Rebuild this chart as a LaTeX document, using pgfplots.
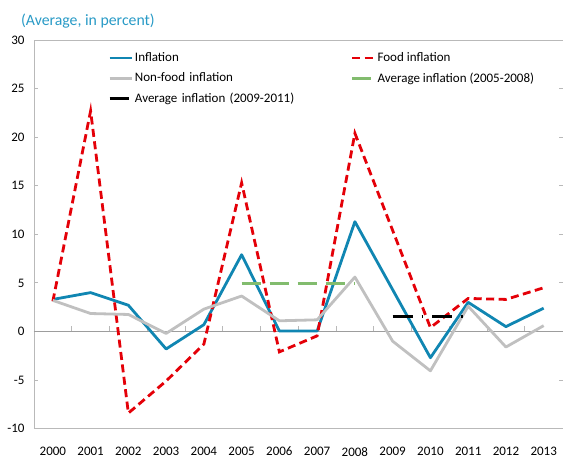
\documentclass[border=0pt]{standalone}
\usepackage{pgfplots}
\pgfplotsset{compat=1.18}
\usepackage{fontspec}
\setmainfont{Carlito}
\definecolor{infl}{RGB}{16,134,178}
\definecolor{food}{RGB}{228,0,8}
\definecolor{nonfood}{RGB}{192,192,192}
\definecolor{avgA}{RGB}{130,188,110}
\definecolor{ttl}{RGB}{40,154,198}
\definecolor{frame}{RGB}{185,185,185}
\begin{document}
\begin{tikzpicture}
\begin{axis}[
  scale only axis,
  width=529pt, height=389pt,
  xmin=-0.5, xmax=13.5,
  ymin=-10, ymax=30,
  ytick={-10,-5,0,5,10,15,20,25,30},
  xtick={0,...,13},
  xticklabels={2000,2001,2002,2003,2004,2005,2006,2007,2008,2009,2010,2011,2012,2013},
  axis line style={draw=none},
  xtick style={draw=none},
  ytick style={draw=frame, line width=0.8pt},
  tick align=inside,
  major tick length=4pt,
  tick label style={font=\fontsize{13}{15}\selectfont},
  /pgf/number format/assume math mode=true,
  xticklabel style={yshift=-15pt},
  yticklabel style={xshift=-6pt},
  clip=false,
  legend columns=2,
  legend style={draw=none, fill=none, at={(rel axis cs:0.134,0.978)}, anchor=north west,
    font=\fontsize{13}{15}\selectfont, row sep=5.5pt,
    nodes={align=left, inner xsep=1pt}},
  legend cell align=left,
  legend image code/.code={\draw[#1] (0pt,0pt)--(23pt,0pt);},
]
\draw[frame, line width=0.9pt] (rel axis cs:1,1) -- (rel axis cs:0,1) -- (rel axis cs:0,0) -- (rel axis cs:1,0);
\draw[frame!85!black, line width=0.8pt] (axis cs:-0.5,0) -- (axis cs:13.5,0);
\pgfplotsinvokeforeach{0.5,1.5,...,12.5}{\draw[frame, line width=0.8pt] (axis cs:#1,0) -- ++(0pt,5pt);}
\coordinate (O) at (rel axis cs:0,0);

\addplot[infl, line width=2.8pt, line join=round] coordinates {
(0,3.3) (1,4.0) (2,2.7) (3,-1.8) (4,0.7) (5,7.9) (6,0.05) (7,0.05) (8,11.3) (9,4.3) (10,-2.7) (11,3.0) (12,0.5) (13,2.4)};
\addlegendentry[text width=215pt]{Inflation}
\addplot[food, line width=2.8pt, dash pattern=on 8pt off 4.5pt] coordinates {
(0,3.1) (1,22.7) (2,-8.4) (3,-5.1) (4,-1.3) (5,15.3) (6,-2.1) (7,-0.45) (8,20.4) (9,10.4) (10,0.4) (11,3.4) (12,3.3) (13,4.5)};
\addlegendentry{Food inflation}
\addplot[nonfood, line width=2.8pt, line join=round] coordinates {
(0,3.2) (1,1.85) (2,1.75) (3,-0.2) (4,2.3) (5,3.65) (6,1.1) (7,1.2) (8,5.6) (9,-1.0) (10,-4.05) (11,2.6) (12,-1.6) (13,0.6)};
\addlegendentry[text width=215pt]{Non-food inflation}
\addplot[avgA, line width=2.8pt, dash pattern=on 19pt off 9pt] coordinates {
(5,4.9) (6,4.9) (7,4.9) (8,4.9)};
\addlegendentry{Average inflation (2005-2008)}
\addplot[black, line width=3pt, dash pattern=on 20pt off 9pt on 1.5pt off 9pt] coordinates {
(9,1.55) (10,1.55) (11,1.55)};
\addlegendentry[text width=215pt]{Average inflation (2009-2011)}
\end{axis}
\path (O) ++(-13pt,408pt) node[anchor=west, text=ttl, font=\fontsize{15.8}{18}\selectfont, inner sep=0pt] {(Average, in percent)};
\path (O) ++(-34pt,-30pt) rectangle ++(563pt,459pt);
\end{tikzpicture}
\end{document}
